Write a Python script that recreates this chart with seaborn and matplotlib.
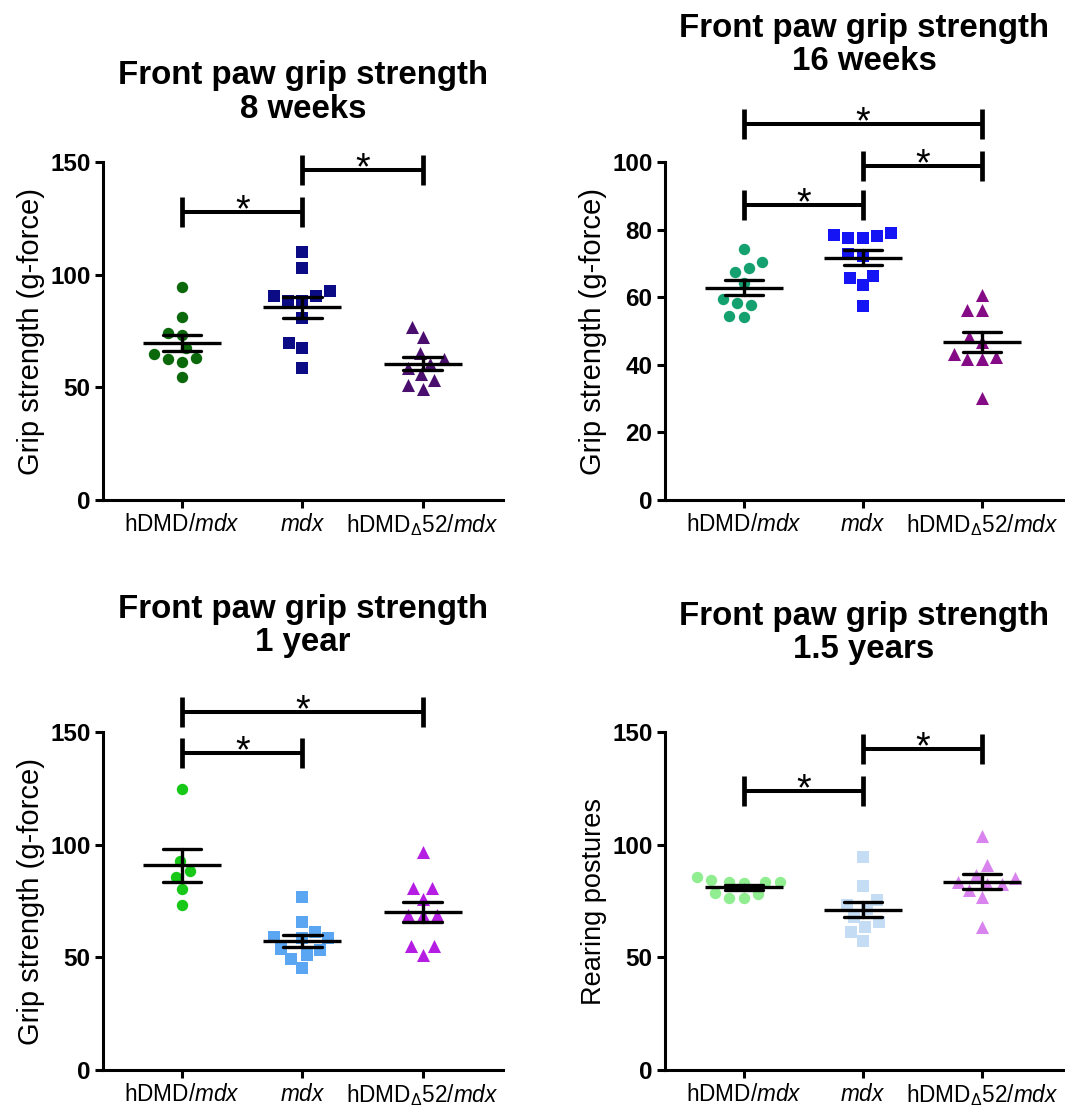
import numpy as np
import pandas as pd
import matplotlib
matplotlib.use("Agg")
import matplotlib.pyplot as plt
import seaborn as sns

# ---- data ----------------------------------------------------------------
groups = ["hDMD/mdx", "mdx", "hDMDd52/mdx"]
group_labels = [r"hDMD/$\mathit{mdx}$", r"$\mathit{mdx}$",
                r"hDMD$_{\Delta}$52/$\mathit{mdx}$"]

# Front paw grip strength, 8 weeks (g-force)
wk8_hdmd = [94.6, 81.3, 73.2, 74.0, 67.3, 62.9, 61.4, 62.4, 64.6, 54.7]
wk8_mdx = [110.2, 102.8, 90.6, 88.4, 88.4, 90.6, 92.9, 81.0, 69.5, 67.6, 58.4]
wk8_d52 = [76.9, 72.5, 65.1, 62.4, 60.6, 58.4, 55.8, 53.2, 51.0, 49.5]

# Front paw grip strength, 16 weeks (g-force)
wk16_hdmd = [74.2, 70.3, 68.8, 67.4, 64.1, 59.4, 58.2, 57.7, 54.2, 54.4]
wk16_mdx = [78.9, 77.4, 78.1, 77.4, 78.4, 72.7, 72.3, 65.8, 66.4, 63.6, 57.4]
wk16_d52 = [60.8, 56.2, 56.2, 48.3, 46.7, 43.1, 41.7, 41.7, 42.2, 30.3]

# Front paw grip strength, 1 year (g-force)
yr1_hdmd = [124.6, 92.9, 88.3, 85.8, 80.2, 73.2]
yr1_mdx = [76.9, 65.5, 61.1, 58.4, 58.4, 58.9, 53.6, 53.3, 51.0, 49.1, 45.1]
yr1_d52 = [96.6, 80.6, 80.6, 75.8, 68.8, 68.8, 68.8, 55.0, 55.0, 51.0]

# Front paw grip strength, 1.5 years (rearing postures)
yr15_hdmd = [83.3, 83.3, 84.3, 82.9, 83.3, 85.5, 78.1, 76.2, 76.2, 78.4]
yr15_mdx = [94.4, 81.8, 75.5, 73.2, 71.3, 68.0, 65.5, 63.6, 61.1, 57.3]
yr15_d52 = [103.9, 91.0, 86.6, 85.1, 83.6, 82.6, 82.6, 79.9, 76.9, 63.6]

# significance brackets: (group a, group b, height)
wk8_sig = [(0, 1, 127.9), (1, 2, 146.4)]
wk16_sig = [(0, 1, 87.3), (1, 2, 98.9), (0, 2, 111.3)]
yr1_sig = [(0, 1, 140.6), (0, 2, 158.9)]
yr15_sig = [(0, 1, 123.8), (1, 2, 142.5)]

titles = ["Front paw grip strength\n8 weeks",
          "Front paw grip strength\n16 weeks",
          "Front paw grip strength\n1 year",
          "Front paw grip strength\n1.5 years"]
ylabels = ["Grip strength (g-force)", "Grip strength (g-force)",
           "Grip strength (g-force)", "Rearing postures"]
yticks = [[0, 50, 100, 150], [0, 20, 40, 60, 80, 100],
          [0, 50, 100, 150], [0, 50, 100, 150]]

markers = ["o", "s", "^"]
marker_sizes = [8.2, 8.4, 9.4]
colors = [
    ["#0b690b", "#0b0b86", "#4a0f6e"],
    ["#15a070", "#1414f5", "#850a85"],
    ["#18c818", "#5aa6f2", "#b51de3"],
    ["#90ee90", "#c4dcf4", "#d883ee"],
]

panels = [
    ([wk8_hdmd, wk8_mdx, wk8_d52], wk8_sig),
    ([wk16_hdmd, wk16_mdx, wk16_d52], wk16_sig),
    ([yr1_hdmd, yr1_mdx, yr1_d52], yr1_sig),
    ([yr15_hdmd, yr15_mdx, yr15_d52], yr15_sig),
]

# ---- style ---------------------------------------------------------------
sns.set_style("ticks")
plt.rcParams["font.family"] = ["Liberation Sans", "DejaVu Sans"]
plt.rcParams["mathtext.fontset"] = "custom"
plt.rcParams["mathtext.rm"] = "Liberation Sans"
plt.rcParams["mathtext.it"] = "Liberation Sans:italic"
plt.rcParams["mathtext.bf"] = "Liberation Sans:bold"
for key in ("text.color", "axes.labelcolor", "xtick.color", "ytick.color",
            "axes.edgecolor"):
    plt.rcParams[key] = "black"

fig = plt.figure(figsize=(10.65, 11.10), dpi=100)

boxes = [
    [0.0967, 0.5495, 0.3756, 0.3045],
    [0.6244, 0.5495, 0.3737, 0.3045],
    [0.0967, 0.0360, 0.3756, 0.3045],
    [0.6244, 0.0360, 0.3737, 0.3045],
]
xlims = [(-0.66, 2.67), (-0.66, 2.68), (-0.66, 2.67), (-0.66, 2.68)]
title_pads = [32, 66, 58, 53]
ylims = [(0, 150), (0, 100), (0, 150), (0, 150)]
ylabel_sizes = [21, 21, 21, 19.5]
bracket_half = [6.6, 4.4, 6.6, 6.6]

LW = 2.4
SWARM_SPACING = 10.0   # point footprint used for the swarm layout

swarm_sets = []   # (collection, final marker size)
for i, ((series, sigs), box) in enumerate(zip(panels, boxes)):
    ax = fig.add_axes(box)
    df = pd.DataFrame({
        "group": np.concatenate([[g] * len(v) for g, v in zip(groups, series)]),
        "value": np.concatenate(series),
    })

    # individual animals
    for g, mk, col, ms in zip(groups, markers, colors[i], marker_sizes):
        n_before = len(ax.collections)
        sns.swarmplot(data=df[df["group"] == g], x="group", y="value",
                      order=groups, marker=mk, color=col, size=SWARM_SPACING,
                      linewidth=0, ax=ax, zorder=1, warn_thresh=1.0)
        for coll in ax.collections[n_before:]:
            swarm_sets.append((coll, ms))

    # mean with SEM
    sns.pointplot(data=df, x="group", y="value", order=groups,
                  errorbar="se", capsize=0.32, color="black",
                  markers="_", markersize=56, markeredgewidth=LW,
                  linestyle="none", err_kws={"linewidth": LW}, ax=ax,
                  zorder=3)

    # significance brackets
    h = bracket_half[i]
    for a, b, y in sigs:
        ax.plot([a, b], [y, y], color="black", lw=2.9, clip_on=False,
                solid_capstyle="butt", zorder=4)
        for xx in (a, b):
            ax.plot([xx, xx], [y - h, y + h], color="black", lw=3.4,
                    clip_on=False, solid_capstyle="butt", zorder=4)
        ax.annotate("*", xy=((a + b) / 2, y), xytext=(0, -6.5),
                    textcoords="offset points", ha="center",
                    va="baseline", fontsize=27, annotation_clip=False)

    ax.set_xlim(*xlims[i])
    ax.set_ylim(*ylims[i])
    ax.set_yticks(yticks[i])
    ax.set_yticklabels([str(t) for t in yticks[i]], fontsize=17.5,
                       fontweight="bold")
    ax.set_xticks(range(3))
    ax.set_xticklabels(group_labels, fontsize=16.3)
    ax.set_xlabel("")
    ax.set_ylabel(ylabels[i], fontsize=ylabel_sizes[i], labelpad=4)
    ax.set_title(titles[i], fontsize=23.8, fontweight="bold",
                 pad=title_pads[i], linespacing=1.12)

    sns.despine(ax=ax)
    for side in ("left", "bottom"):
        ax.spines[side].set_linewidth(2.2)
    ax.tick_params(axis="both", width=2.2, length=6, pad=3,
                   direction="out", color="black")

# Lay the swarms out once with the wider footprint, then freeze them and
# show the markers at their real size.
fig.canvas.draw()
for coll, ms in swarm_sets:
    if "draw" in coll.__dict__:
        del coll.draw
    coll.set_sizes([ms ** 2])

fig.savefig("out.png", dpi=100)
